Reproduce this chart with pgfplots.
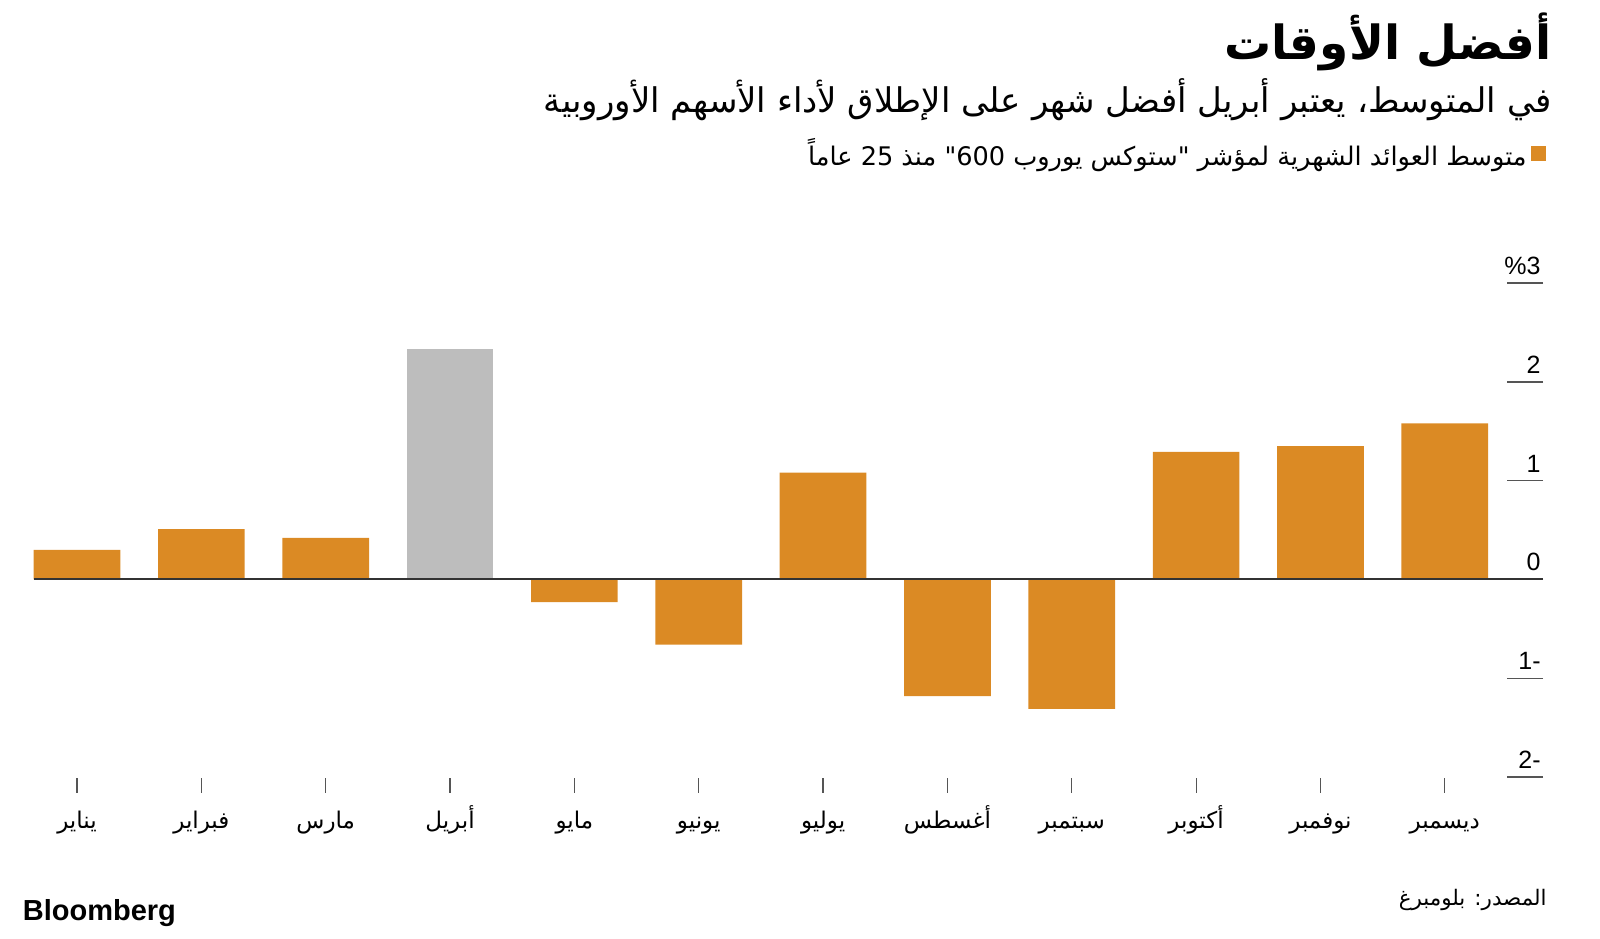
\documentclass[border=0pt]{standalone}
\usepackage{pgfplots}
\usepackage{pgfplotstable}
\pgfplotsset{compat=1.18}
\usepackage{fontspec}
\setmainfont{Liberation Sans}
\newfontfamily\arabicfont[Script=Arabic]{DejaVu Sans}
\TeXXeTstate=1
\definecolor{barorange}{HTML}{DB8A24}
\definecolor{bargray}{HTML}{BDBDBD}
\definecolor{axisdark}{HTML}{333333}
\definecolor{tickgray}{HTML}{555555}
\newcommand{\ar}[1]{{\arabicfont\beginR #1\endR}}
\pgfplotstableread{
x y
0 0.30
1 0.51
2 0.42
4 -0.23
5 -0.66
6 1.08
7 -1.18
8 -1.31
9 1.29
10 1.35
11 1.58
}\orangedata
\pgfplotstableread{
x y
3 2.33
}\graydata
\begin{document}
\begin{tikzpicture}
\path[use as bounding box] (0,0) rectangle (800pt,-469pt);
\begin{axis}[
  at={(17pt,-388.5pt)}, anchor=south west,
  scale only axis, width=754.5pt, height=247pt,
  xmin=-0.346, xmax=11.79, ymin=-2, ymax=3,
  clip=false,
  axis x line*=bottom, axis y line*=right,
  axis line style={draw=none},
  tick align=inside,
  major tick length=18pt,
  xtick={0,...,11},
  xticklabels={\ar{يناير},\ar{فبراير},\ar{مارس},\ar{أبريل},\ar{مايو},\ar{يونيو},\ar{يوليو},\ar{أغسطس},\ar{سبتمبر},\ar{أكتوبر},\ar{نوفمبر},\ar{ديسمبر}},
  xtick style={draw=none},
  xticklabel style={anchor=base, yshift=-7.7pt, font=\fontsize{11.5}{13}\selectfont},
  ytick={-2,...,3},
  yticklabels={2-,1-,0,1,2,\%3},
  ytick style={draw=tickgray, line width=0.7pt},
  yticklabel style={anchor=south east, inner sep=0pt, xshift=-1pt, yshift=4pt, font=\fontsize{12.5}{14}\selectfont},
  ybar, bar width=43.35pt, bar shift=0pt,
  legend plot pos=right,
  legend cell align=right,
  legend style={at={(1.002,1.262)}, anchor=east, draw=none, fill=none, inner sep=0pt,
    font=\fontsize{12.8}{15}\selectfont, /tikz/every even column/.append style={column sep=0pt}},
  legend image code/.code={\fill[barorange] (5pt,-3.75pt) rectangle (12.5pt,3.75pt);},
]
\addplot[fill=barorange, draw=none] table[x=x,y=y] {\orangedata};
\addlegendentry{\ar{متوسط العوائد الشهرية لمؤشر "ستوكس يوروب 600" منذ 25 عاماً}}
\addplot[fill=bargray, draw=none, forget plot] table[x=x,y=y] {\graydata};
\draw[axisdark, line width=1pt] (axis cs:-0.346,0) -- (axis cs:11.79,0);
\pgfplotsinvokeforeach{0,...,11}{\draw[tickgray, line width=0.6pt] (axis cs:#1,-2.01) -- (axis cs:#1,-2.16);}
\end{axis}
\node[anchor=base east, inner sep=0pt] at (776pt,-29.5pt) {\arabicfont\bfseries\fontsize{23.5}{27}\selectfont\beginR أفضل الأوقات\endR};
\node[anchor=base east, inner sep=0pt] at (776pt,-56pt) {\arabicfont\fontsize{17}{20}\selectfont\beginR في المتوسط، يعتبر أبريل أفضل شهر على الإطلاق لأداء الأسهم الأوروبية\endR};
\node[anchor=base east, inner sep=0pt] at (773.5pt,-452.5pt) {\arabicfont\fontsize{10.7}{13}\selectfont\beginR المصدر: بلومبرغ\endR};
\node[anchor=base west, inner sep=0pt] at (11.25pt,-460pt) {\bfseries\fontsize{14.5}{16}\selectfont Bloomberg};
\end{tikzpicture}
\end{document}
